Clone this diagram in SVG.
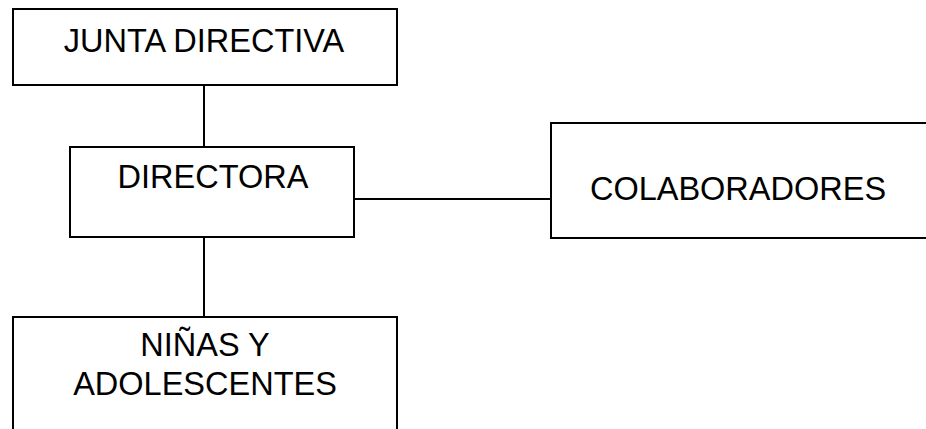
<svg xmlns="http://www.w3.org/2000/svg" width="926" height="429" viewBox="0 0 926 429">
<style>
.box{fill:#fff;stroke:#000;stroke-width:2}
.lbl{font-family:"Liberation Sans",Arial,sans-serif;font-size:32.5px;fill:#000;text-anchor:middle}
.con{stroke:#000;stroke-width:2;fill:none}
</style>
<rect width="926" height="429" fill="#fff"/>
<g id="connectors">
<line class="con" x1="204" y1="85" x2="204" y2="147"/>
<line class="con" x1="204" y1="237" x2="204" y2="317"/>
<line class="con" x1="354" y1="199" x2="551" y2="199"/>
</g>
<g id="junta">
<rect class="box" x="13" y="9" width="384" height="76"/>
<text class="lbl" x="204" y="52">JUNTA DIRECTIVA</text>
</g>
<g id="directora">
<rect class="box" x="70" y="147" width="284" height="90"/>
<text class="lbl" x="213" y="188">DIRECTORA</text>
</g>
<g id="colaboradores">
<rect class="box" x="551" y="123" width="400" height="115"/>
<text class="lbl" x="738" y="200">COLABORADORES</text>
</g>
<g id="ninas">
<rect class="box" x="13" y="317" width="384" height="200"/>
<text class="lbl" x="205" y="356">NIÑAS Y</text>
<text class="lbl" x="205" y="395">ADOLESCENTES</text>
</g>
</svg>
